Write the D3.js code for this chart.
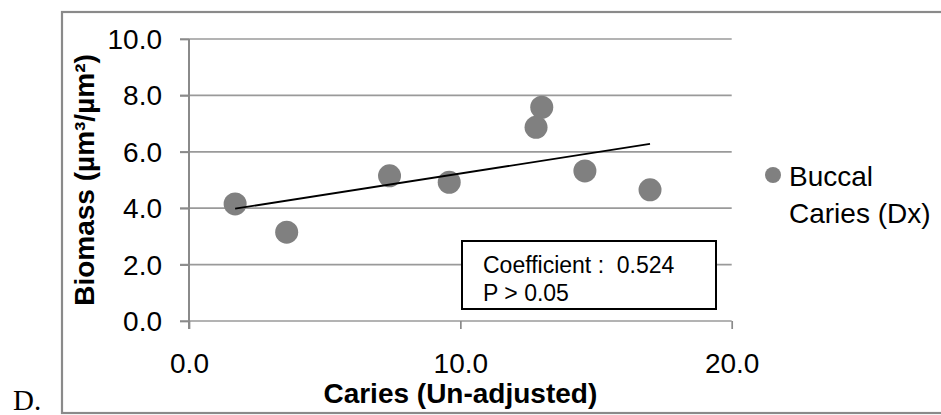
<!DOCTYPE html>
<html lang="en">
<head>
<meta charset="utf-8">
<style>
body { margin:0; background:white; }
svg { font-family: "Liberation Sans", Arial, sans-serif; }
.tick text { font-size:28px; fill:#000; }
</style>
<script src="https://cdn.jsdelivr.net/npm/d3@7"></script>
</head>
<body>
<div id="chart"></div>
<script>

// caries score vs biomass
var caries  = [1.70, 3.60, 7.39, 9.59, 12.79, 13.00, 14.59, 16.99]
var biomass = [4.15, 3.15, 5.15, 4.92, 6.87, 7.58, 5.32, 4.65]

var xTicks = [0, 10, 20]
var yTicks = [0, 2, 4, 6, 8, 10]
var seriesName = ["Buccal", "Caries (Dx)"]
var noteLines = ["Coefficient :  0.524", "P > 0.05"]

var width = 941
var height = 415

var svg = d3.select('#chart').append("svg")
    .attr("width", width)
    .attr("height", height);

var x = d3.scaleLinear().domain([0, 20]).range([189, 731.7]);
var y = d3.scaleLinear().domain([0, 10]).range([321, 39]);

// outer frame (right side runs off the picture)
svg.append("rect")
    .attr("x", 62).attr("y", 12)
    .attr("width", 900).attr("height", 401)
    .attr("fill", "none")
    .attr("stroke", "#8a8a8a")
    .attr("stroke-width", 2.2);

svg.append("text")
    .attr("x", 13).attr("y", 410)
    .attr("font-family", "Liberation Serif, Times New Roman, serif")
    .attr("font-size", 29)
    .text("D.");

// gridlines
svg.append("g").selectAll("line")
  .data(yTicks)
  .enter().append("line")
    .attr("x1", x(0) - 9).attr("x2", x(20))
    .attr("y1", function(d) { return y(d) }).attr("y2", function(d) { return y(d) })
    .attr("stroke", "#9a9a9a")
    .attr("stroke-width", 1.7);

var gy = svg.append("g")
    .attr("transform", "translate(" + x(0) + ",0)")
    .call(d3.axisLeft(y).tickValues(yTicks).tickSize(9).tickPadding(18)
        .tickFormat(d3.format(".1f")));
gy.select(".domain").remove();
gy.selectAll(".tick line").attr("stroke", "#8a8a8a").attr("stroke-width", 1.7);
gy.selectAll(".tick text").attr("dy", "0.34em");

var gx = svg.append("g")
    .attr("transform", "translate(0," + y(0) + ")")
    .call(d3.axisBottom(x).tickValues(xTicks).tickSize(8).tickPadding(24)
        .tickFormat(d3.format(".1f")));
gx.select(".domain").remove();
gx.selectAll(".tick line").attr("stroke", "#8a8a8a").attr("stroke-width", 1.7);

// y axis line
svg.append("line")
    .attr("x1", x(0)).attr("x2", x(0))
    .attr("y1", y(10)).attr("y2", y(0) + 8)
    .attr("stroke", "#8a8a8a")
    .attr("stroke-width", 2);

// axis titles
svg.append("text")
    .attr("transform", "translate(94," + (y(5)) + ") rotate(-90)")
    .attr("text-anchor", "middle")
    .attr("font-weight", "bold")
    .attr("font-size", 28)
    .text("Biomass (µm³/µm²)");

svg.append("text")
    .attr("x", x(10)).attr("y", 403)
    .attr("text-anchor", "middle")
    .attr("font-weight", "bold")
    .attr("font-size", 28)
    .text("Caries (Un-adjusted)");

// points
var pts = caries.map(function(d, i) { return [d, biomass[i]] });

svg.append("g").selectAll("circle")
  .data(pts)
  .enter().append("circle")
    .attr("cx", function(d) { return x(d[0]) })
    .attr("cy", function(d) { return y(d[1]) })
    .attr("r", 11.5)
    .attr("fill", "#808080");

// least squares trend line
var mx = d3.mean(caries), my = d3.mean(biomass);
var sxy = d3.sum(pts, function(d) { return (d[0] - mx) * (d[1] - my) });
var sxx = d3.sum(pts, function(d) { return (d[0] - mx) * (d[0] - mx) });
var slope = sxy / sxx, icpt = my - slope * mx;
var ext = d3.extent(caries);

svg.append("line")
    .attr("x1", x(ext[0])).attr("y1", y(icpt + slope * ext[0]))
    .attr("x2", x(ext[1])).attr("y2", y(icpt + slope * ext[1]))
    .attr("stroke", "#000")
    .attr("stroke-width", 1.8);

// note box
svg.append("rect")
    .attr("x", 462).attr("y", 241)
    .attr("width", 254).attr("height", 68)
    .attr("fill", "white")
    .attr("stroke", "#000")
    .attr("stroke-width", 2);

svg.append("g").selectAll("text")
  .data(noteLines)
  .enter().append("text")
    .attr("x", 483)
    .attr("y", function(d, i) { return 273 + i * 28 })
    .attr("font-size", 23)
    .style("white-space", "pre")
    .text(function(d) { return d });

// legend
svg.append("circle")
    .attr("cx", 773).attr("cy", 175)
    .attr("r", 8)
    .attr("fill", "#808080");

svg.append("g").selectAll("text")
  .data(seriesName)
  .enter().append("text")
    .attr("x", 789)
    .attr("y", function(d, i) { return 185.5 + i * 37 })
    .attr("font-size", 28)
    .text(function(d) { return d });

</script>
</body>
</html>
